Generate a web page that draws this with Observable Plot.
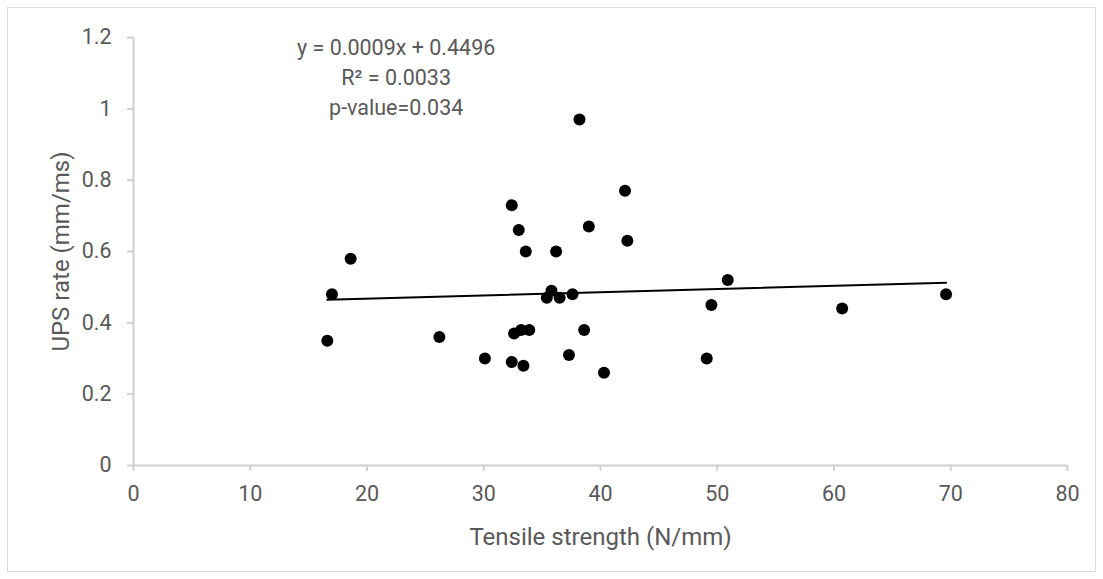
<!DOCTYPE html>
<html>
<head>
<meta charset="utf-8">
<script src="https://cdn.jsdelivr.net/npm/d3@7"></script>
<script src="https://cdn.jsdelivr.net/npm/@observablehq/plot@0.6"></script>
<style>
  html, body { margin: 0; padding: 0; background: #fff; }
  #wrap { position: relative; width: 1103px; height: 579px; overflow: hidden; }
  #border { position: absolute; left: 7px; top: 7px; width: 1087px; height: 563px; border: 1.5px solid #d9d9d9; pointer-events: none; }
  svg { display: block; }
</style>
</head>
<body>
<div id="wrap"><div id="chart"></div><div id="border"></div></div>
<script>
// Data
const tensileStrength = [38.2, 42.1, 32.4, 33.0, 39.0, 42.3, 33.6, 36.2, 18.6, 17.0, 16.6, 26.2, 30.1, 32.4, 33.4, 32.6, 33.2, 33.9, 35.8, 35.4, 36.5, 37.6, 38.6, 37.3, 40.3, 50.9, 49.5, 49.1, 60.7, 69.6];
const upsRate        = [0.97, 0.77, 0.73, 0.66, 0.67, 0.63, 0.60, 0.60, 0.58, 0.48, 0.35, 0.36, 0.30, 0.29, 0.28, 0.37, 0.38, 0.38, 0.49, 0.47, 0.47, 0.48, 0.38, 0.31, 0.26, 0.52, 0.45, 0.30, 0.44, 0.48];
const trendSlope = 0.0009;
const trendIntercept = 0.4496;
const annotationLines = ["y = 0.0009x + 0.4496", "R\u00b2 = 0.0033", "p-value=0.034"];
const annotationY = [1.17, 1.085, 1.003];
const xTicks = [0, 10, 20, 30, 40, 50, 60, 70, 80];
const yTicks = [0, 0.2, 0.4, 0.6, 0.8, 1, 1.2];
const xTitle = "Tensile strength (N/mm)";
const yTitle = "UPS rate (mm/ms)";

const points = tensileStrength.map((x, i) => ({x, y: upsRate[i]}));
const xMin = d3.min(tensileStrength), xMax = d3.max(tensileStrength);
const trend = [xMin, xMax].map(x => ({x, y: trendSlope * x + trendIntercept}));
const annotations = annotationLines.map((t, i) => ({t, y: annotationY[i]}));

const FONT = "Roboto, 'Open Sans', sans-serif";
const GRAY = "#595959";
const AXIS = "#d0d0d0";

const chart = Plot.plot({
  width: 1103,
  height: 579,
  marginLeft: 133,
  marginRight: 36,
  marginTop: 37,
  marginBottom: 114,
  style: {fontFamily: FONT, color: GRAY, background: "white"},
  x: {domain: [0, 80]},
  y: {domain: [0, 1.2]},
  marks: [
    Plot.ruleX([0], {stroke: AXIS, strokeWidth: 2}),
    Plot.ruleY([0], {stroke: AXIS, strokeWidth: 2}),
    Plot.axisX({ticks: xTicks, tickSize: 6, tickPadding: 14, stroke: AXIS, strokeWidth: 2, fill: GRAY, fontSize: 21.5, label: null, tickFormat: d => String(d)}),
    Plot.axisY({ticks: yTicks, tickSize: 6, tickPadding: 16, stroke: AXIS, strokeWidth: 2, fill: GRAY, fontSize: 21.5, label: null, tickFormat: d => String(d)}),
    Plot.line(trend, {x: "x", y: "y", stroke: "black", strokeWidth: 2}),
    Plot.dot(points, {x: "x", y: "y", r: 6, fill: "black", stroke: "none"}),
    Plot.text(annotations, {x: 22.5, y: "y", text: "t", fill: GRAY, fontSize: 21.5, textAnchor: "middle", lineAnchor: "middle"}),
    Plot.text([xTitle], {frameAnchor: "bottom", dy: 72, fill: GRAY, fontSize: 24, textAnchor: "middle", lineAnchor: "middle"}),
    Plot.text([yTitle], {frameAnchor: "left", dx: -72, rotate: -90, fill: GRAY, fontSize: 24, textAnchor: "middle", lineAnchor: "middle"})
  ]
});
document.getElementById("chart").appendChild(chart);
</script>
</body>
</html>
